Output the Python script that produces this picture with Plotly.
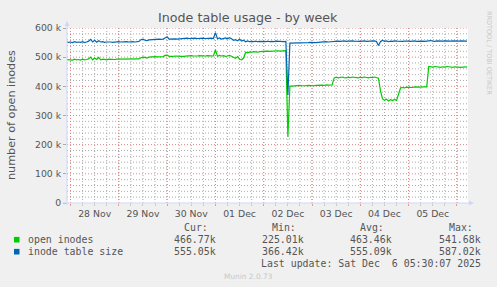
import pandas as pd
import plotly.graph_objects as go

# ---------------- data (hourly, thousands) ----------------
start_time = "2025-11-27 22:00"
open_inodes = [
    492, 491,
    # Nov 28
    492, 490, 493, 491, 492, 490, 493, 491, 492, 494, 500, 491, 497, 492, 499, 491, 493, 492, 491, 493, 492, 491, 492, 493,
    # Nov 29
    493, 492, 494, 493, 492, 493, 493, 493, 493, 493, 494, 498, 500, 499, 497, 500, 501, 500, 502, 501, 502, 503, 502, 506,
    # Nov 30
    507, 503, 502, 503, 504, 503, 504, 503, 503, 504, 503, 504, 505, 504, 503, 504, 505, 504, 503, 504, 505, 504, 505, 504,
    # Dec 1
    525, 503, 506, 504, 505, 503, 504, 506, 503, 499, 496, 502, 493, 491, 497, 517, 515, 518, 517, 519, 518, 517, 519, 520,
    # Dec 2
    519, 520, 521, 520, 521, 522, 521, 522, 521, 522, 523, 522, 227, 401, 401, 402, 401, 402, 403, 402, 401, 402, 403, 402,
    # Dec 3
    403, 402, 403, 404, 403, 404, 403, 405, 404, 404, 405, 429, 431, 429, 430, 432, 430, 429, 431, 430, 432, 431, 430, 429,
    # Dec 4
    431, 430, 432, 430, 429, 431, 430, 432, 431, 428, 385, 358, 352, 356, 350, 354, 351, 355, 352, 372, 395, 396, 395, 397,
    # Dec 5
    396, 397, 396, 398, 397, 396, 397, 398, 397, 398, 468, 467, 466, 468, 467, 466, 465, 467, 466, 468, 467, 466, 465, 467,
    # Dec 6
    466, 467, 465, 466, 467, 467,
]
inode_table_size = [
    553, 551,
    # Nov 28
    552, 550, 553, 551, 552, 551, 553, 550, 552, 555, 561, 552, 558, 551, 556, 552, 553, 551, 552, 553, 552, 551, 552, 553,
    # Nov 29
    553, 552, 553, 552, 553, 552, 553, 553, 552, 553, 554, 560, 562, 558, 557, 559, 560, 561, 560, 561, 562, 561, 562, 566,
    # Nov 30
    570, 562, 563, 562, 563, 562, 563, 564, 563, 564, 565, 564, 565, 564, 565, 564, 565, 564, 565, 564, 565, 564, 565, 564,
    # Dec 1
    584, 563, 566, 562, 564, 566, 563, 567, 563, 558, 560, 556, 562, 555, 558, 553, 556, 553, 554, 553, 555, 553, 554, 553,
    # Dec 2
    554, 553, 555, 553, 554, 553, 555, 554, 553, 554, 553, 554, 370, 548, 548, 549, 548, 549, 550, 549, 550, 549, 550, 551,
    # Dec 3
    550, 551, 550, 551, 552, 551, 552, 553, 552, 553, 554, 555, 554, 555, 554, 555, 556, 554, 555, 554, 556, 555, 554, 555,
    # Dec 4
    554, 555, 556, 554, 555, 554, 555, 556, 554, 540, 553, 558, 554, 556, 553, 555, 554, 556, 555, 554, 555, 554, 555, 556,
    # Dec 5
    555, 554, 555, 556, 554, 555, 556, 555, 554, 555, 556, 557, 555, 554, 556, 555, 554, 555, 556, 555, 554, 555, 556, 555,
    # Dec 6
    554, 555, 556, 555, 554, 555,
]
series_names = ["open inodes", "inode table size"]
series_colors = ["#00CC00", "#0066B3"]
stat_headers = ["Cur:", "Min:", "Avg:", "Max:"]
stats = [
    ["466.77k", "225.01k", "463.46k", "541.68k"],
    ["555.05k", "366.42k", "555.09k", "587.02k"],
]
y_tickvals = [0, 100000, 200000, 300000, 400000, 500000, 600000]
y_ticktext = ["0", "100 k", "200 k", "300 k", "400 k", "500 k", "600 k"]
y_minor_vals = [20000, 40000, 60000, 80000, 120000, 140000, 160000, 180000,
                220000, 240000, 260000, 280000, 320000, 340000, 360000, 380000,
                420000, 440000, 460000, 480000, 520000, 540000, 560000, 580000]
day_starts = pd.date_range("2025-11-28", "2025-12-06", freq="D")
x_minor_vals = pd.date_range("2025-11-28 00:00", "2025-12-06 06:00", freq="6h")
title_text = "Inode table usage - by week"
y_title = "number of open inodes"
last_update = "Last update: Sat Dec  6 05:30:07 2025"
munin_version = "Munin 2.0.73"
watermark = "RRDTOOL / TOBI OETIKER"

times = pd.date_range(start_time, periods=len(open_inodes), freq="h")

# ---------------- layout helpers ----------------
W, H = 497, 287
L, R, T, B = 67, 468, 28, 203


def px(x):
    return (x - L) / (R - L)


def py(y):
    return (B - y) / (B - T)


TEXT = "#555555"
AXIS = "#CFD6F8"
MGRID = "#DD8585"
GRID = "#ABABAB"
DASH = "1px,2px"
SANS = "DejaVu Sans"
MONO = "DejaVu Sans Mono"

fig = go.Figure()

fig.update_layout(
    width=W, height=H,
    margin=dict(l=L, r=W - R, t=T, b=H - B, pad=0),
    paper_bgcolor="#F0F0F0", plot_bgcolor="#FFFFFF",
    font=dict(family=SANS, size=9.3, color=TEXT),
)
fig.update_xaxes(
    type="date", range=["2025-11-27 22:15", "2025-12-06 05:30"],
    tick0="2025-11-28", dtick=86400000, ticklabelmode="period",
    tickformat="%d %b", ticks="outside", ticklen=2, tickcolor="#E49A9A",
    showgrid=False, showline=False, zeroline=False,
    tickfont=dict(family=SANS, size=9.3, color=TEXT),
    minor=dict(dtick=6 * 3600000, showgrid=False, ticks="outside", ticklen=2, tickcolor="#C8C8C8"),
)
fig.update_yaxes(
    range=[0, 600000], tickvals=y_tickvals, ticktext=y_ticktext,
    ticks="outside", ticklen=3, tickcolor="#AAAAAA",
    showgrid=False, showline=False, zeroline=False,
    tickfont=dict(family=SANS, size=9.3, color=TEXT),
)

shapes = []
# grid (below traces): minor gray first, then major red
for v in y_minor_vals:
    shapes.append(dict(type="line", layer="below", xref="paper", yref="y", x0=0, x1=1, y0=v, y1=v,
                       line=dict(color=GRID, width=1, dash=DASH)))
for t in x_minor_vals:
    shapes.append(dict(type="line", layer="below", xref="x", yref="paper", x0=t, x1=t, y0=0, y1=1,
                       line=dict(color=GRID, width=1, dash=DASH)))
for v in y_tickvals[1:]:
    shapes.append(dict(type="line", layer="below", xref="paper", yref="y", x0=0, x1=1, y0=v, y1=v,
                       line=dict(color=MGRID, width=1, dash=DASH)))
for t in day_starts:
    shapes.append(dict(type="line", layer="below", xref="x", yref="paper", x0=t, x1=t, y0=0, y1=1,
                       line=dict(color=MGRID, width=1, dash=DASH)))
# axis lines with arrows
shapes.append(dict(type="line", xref="paper", yref="paper", x0=px(63), x1=px(470),
                   y0=py(203), y1=py(203), line=dict(color=AXIS, width=1)))
shapes.append(dict(type="line", xref="paper", yref="paper", x0=px(67), x1=px(67),
                   y0=py(205), y1=py(24), line=dict(color=AXIS, width=1)))
shapes.append(dict(type="path", xref="paper", yref="paper",
                   path=f"M {px(469)},{py(200.5)} L {px(474)},{py(203)} L {px(469)},{py(205.5)} Z",
                   fillcolor=AXIS, line=dict(color=AXIS, width=0)))
shapes.append(dict(type="path", xref="paper", yref="paper",
                   path=f"M {px(64.5)},{py(26)} L {px(67)},{py(21)} L {px(69.5)},{py(26)} Z",
                   fillcolor=AXIS, line=dict(color=AXIS, width=0)))
# legend squares
row_y = [239.7, 251.7]
for yy, col in zip(row_y, series_colors):
    shapes.append(dict(type="rect", xref="paper", yref="paper",
                       x0=px(14), x1=px(19.5), y0=py(yy - 2.8), y1=py(yy + 2.8),
                       fillcolor=col, line=dict(width=0)))
fig.update_layout(shapes=shapes)

for vals, name, col in zip([open_inodes, inode_table_size], series_names, series_colors):
    fig.add_trace(go.Scatter(
        x=times, y=[v * 1000 for v in vals], mode="lines", name=name,
        line=dict(color=col, width=1.2), showlegend=False,
    ))

ann = []


def add_text(text, x, y, xanchor="left", size=9.9, family=MONO, color=TEXT, angle=0):
    ann.append(dict(text=text, x=px(x), y=py(y), xref="paper", yref="paper",
                    xanchor=xanchor, yanchor="middle", showarrow=False,
                    textangle=angle, font=dict(family=family, size=size, color=color)))


add_text(title_text, 248, 18, xanchor="center", size=12.7, family=SANS)
add_text(y_title, 11, 115, xanchor="center", size=11.2, family=SANS, angle=-90)
add_text(watermark, 489, 53, xanchor="center", size=6.5, family=SANS, color="#C8C8C8", angle=90)
add_text(munin_version, 248, 276, xanchor="center", size=7.4, family=SANS, color="#C8C8C8")

header_x = [181.7, 270, 357.7, 446.7]
value_x = [217.5, 305.8, 393.8, 482.5]
for hx, h in zip(header_x, stat_headers):
    add_text(h, hx, 227.3)
for yy, name, row in zip(row_y, series_names, stats):
    add_text(name, 26.3, yy)
    for vx, v in zip(value_x, row):
        add_text(v, vx, yy, xanchor="right")
add_text(last_update, 482.5, 263.3, xanchor="right")
fig.update_layout(annotations=ann)

fig.write_html("out.html")
